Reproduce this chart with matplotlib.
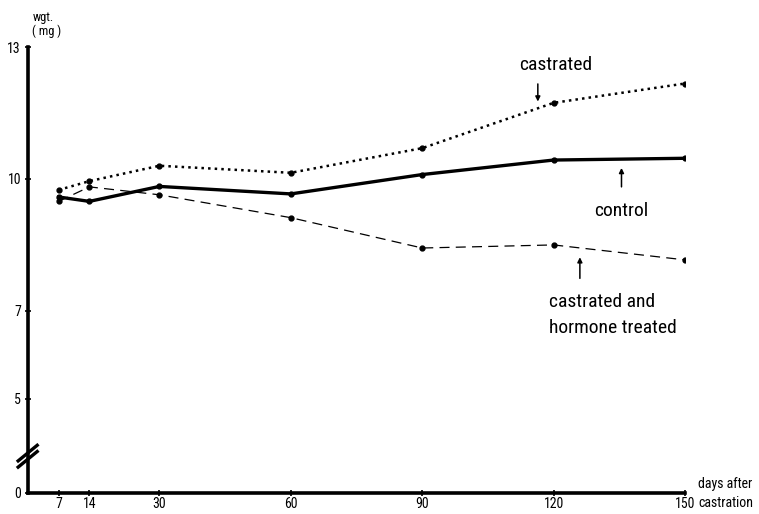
import matplotlib
matplotlib.use('Agg')
import matplotlib.pyplot as plt
from matplotlib import font_manager

# ─── Data ────────────────────────────────────────────────────────────────────
days = [7, 14, 30, 60, 90, 120, 150]
castrated = [9.75, 9.95, 10.30, 10.14, 10.70, 11.73, 12.17]
control = [9.59, 9.49, 9.83, 9.66, 10.10, 10.43, 10.47]
hormone = [9.49, 9.82, 9.64, 9.12, 8.43, 8.50, 8.16]

y_ticks = [5, 7, 10, 13]
y_bottom = 2.86          # where the broken axis shows "0"


# ─── Font: a narrow grotesque, like the typewriter-era original ──────────────
def pick_font(candidates):
    have = {f.name for f in font_manager.fontManager.ttflist}
    for c in candidates:
        if c in have:
            return c
    return 'DejaVu Sans'


NARROW = pick_font(['Roboto Condensed', 'Archivo Narrow',
                    'Liberation Sans Narrow', 'Pathway Gothic One'])
plt.rcParams['font.family'] = [NARROW, 'DejaVu Sans']

fig = plt.figure(figsize=(7.59, 5.14), dpi=100, facecolor='white')
ax = fig.add_axes([28 / 759, 1 - 493 / 514, 657 / 759, 446 / 514])

ax.plot(days, castrated, ':', color='black', linewidth=1.8,
        marker='o', markersize=3.5)
ax.plot(days, control, '-', color='black', linewidth=2.4,
        marker='o', markersize=3.5)
ax.plot(days, hormone, '--', color='black', linewidth=0.9,
        dashes=(8, 5), marker='o', markersize=3.5)

ax.set_xlim(0, 150)
ax.set_ylim(y_bottom, 13)

for s in ['top', 'right']:
    ax.spines[s].set_visible(False)
for s in ['left', 'bottom']:
    ax.spines[s].set_linewidth(2.6)
    ax.spines[s].set_color('black')

ax.set_xticks(days)
ax.set_xticklabels([str(d) for d in days], fontsize=10)
ax.set_yticks([y_bottom] + y_ticks)
ax.set_yticklabels(['0'] + [str(v) for v in y_ticks], fontsize=10)
ax.tick_params(axis='both', direction='inout', length=4, width=1.2,
               colors='black', pad=3)
ax.tick_params(axis='x', pad=1)

# axis break marks
for dy in (0.0, 0.014):
    ax.plot([-0.015, 0.014], [0.058 + dy, 0.093 + dy], transform=ax.transAxes,
            color='black', linewidth=2.4, clip_on=False)

# axis titles
fig.text(33 / 759, 1 - 17 / 514, 'wgt.', fontsize=9, ha='left', va='center')
fig.text(32 / 759, 1 - 31 / 514, '( mg )', fontsize=9, ha='left', va='center')
fig.text(698 / 759, 1 - 484 / 514, 'days after', fontsize=10,
         ha='left', va='center')
fig.text(698 / 759, 1 - 503 / 514, 'castration', fontsize=10,
         ha='left', va='center')

# curve labels with arrows
arrow = dict(arrowstyle='-|>', color='black', lw=1.1, mutation_scale=7,
             shrinkA=0, shrinkB=0)
ax.annotate('', xy=(116.4, 11.76), xytext=(116.4, 12.16), arrowprops=arrow)
ax.text(120.5, 12.6, 'castrated', fontsize=14, ha='center', va='center')

ax.annotate('', xy=(135.5, 10.25), xytext=(135.5, 9.82), arrowprops=arrow)
ax.text(135.5, 9.28, 'control', fontsize=14, ha='center', va='center')

ax.annotate('', xy=(126, 8.22), xytext=(126, 7.74), arrowprops=arrow)
ax.text(119, 7.2, 'castrated and', fontsize=14, ha='left', va='center')
ax.text(119, 6.62, 'hormone treated', fontsize=14, ha='left', va='center')

fig.savefig('out.png', dpi=100, facecolor='white')
